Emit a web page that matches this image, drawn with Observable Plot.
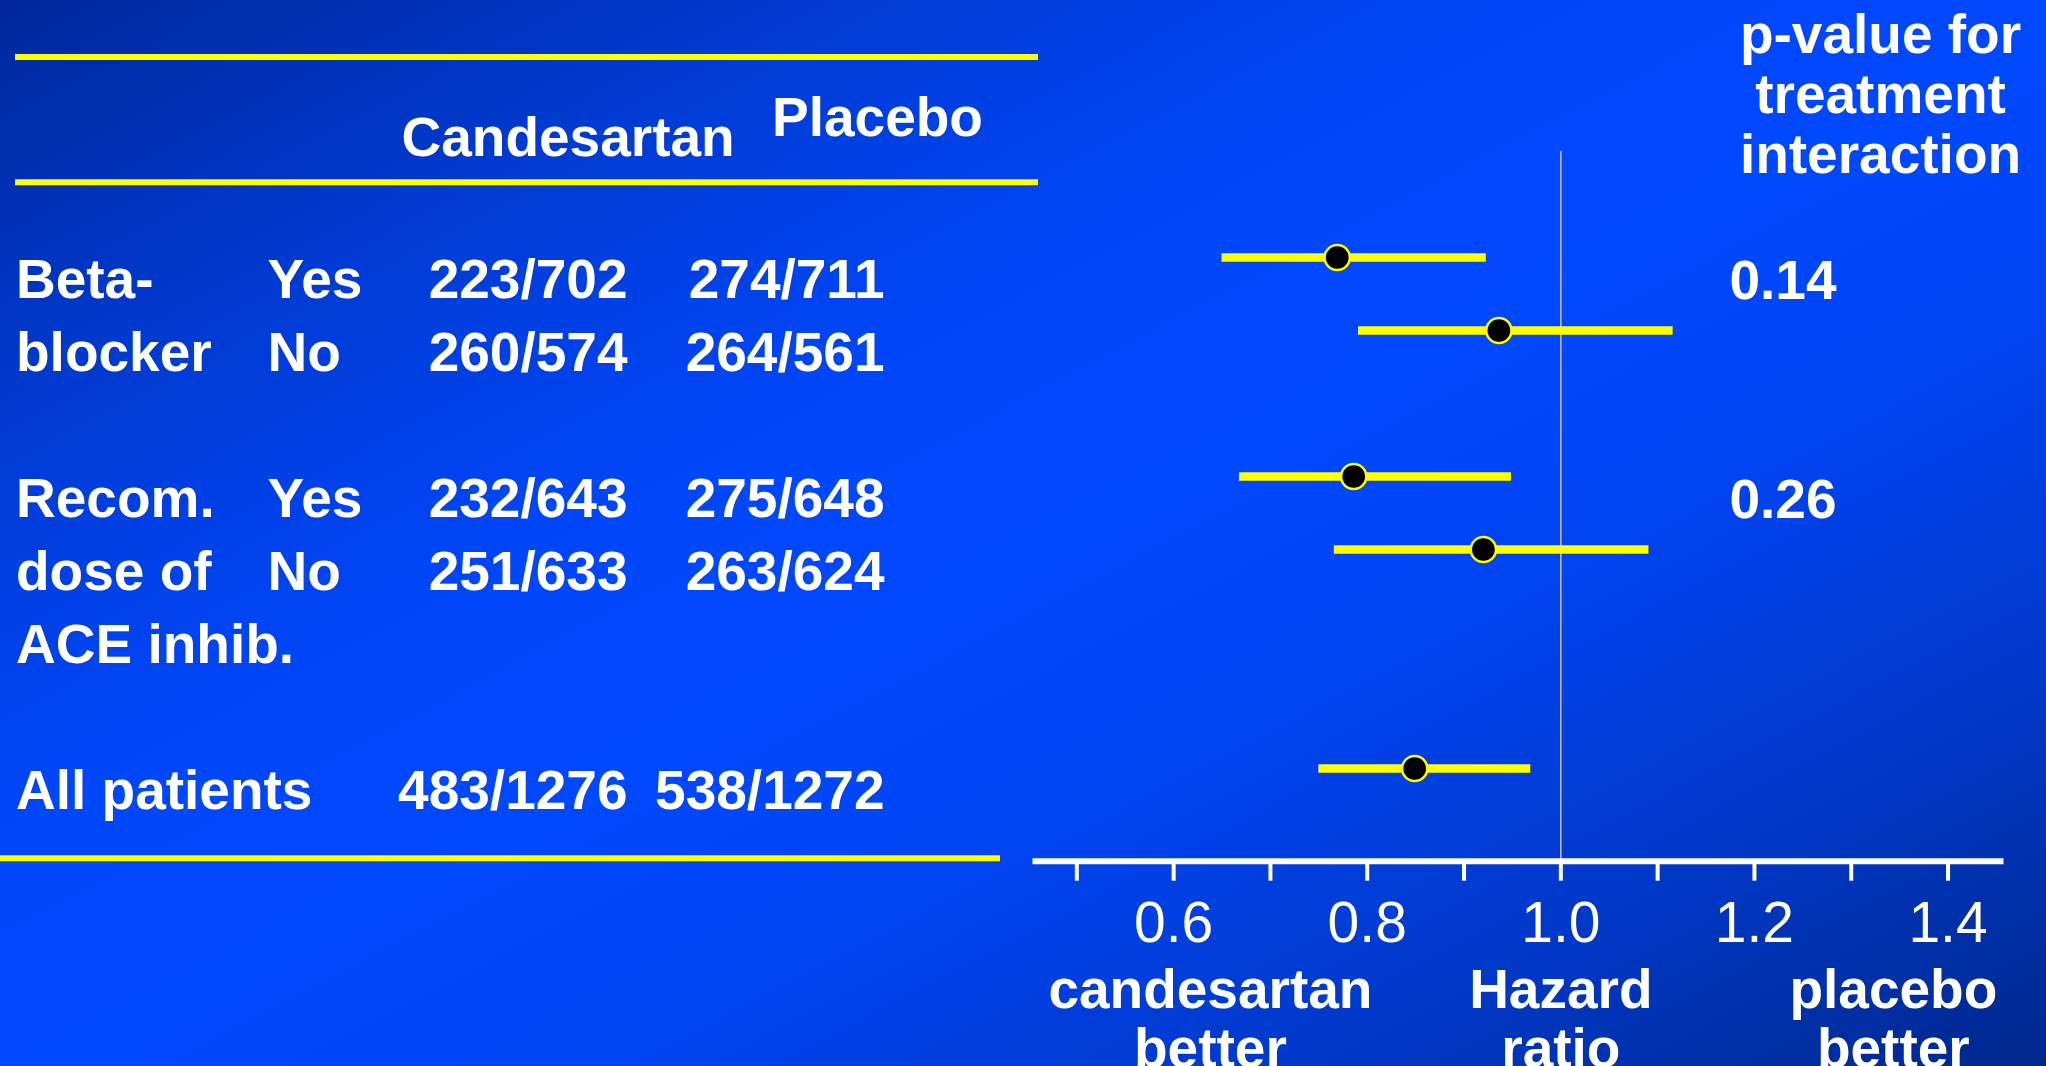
<!DOCTYPE html>
<html>
<head>
<meta charset="utf-8">
<script src="https://cdn.jsdelivr.net/npm/d3@7"></script>
<script src="https://cdn.jsdelivr.net/npm/@observablehq/plot@0.6"></script>
<style>
  html, body { margin: 0; padding: 0; }
  body { width: 2046px; height: 1066px; overflow: hidden; }
  #chart {
    width: 2046px; height: 1066px; position: relative;
    background: linear-gradient(to bottom right, #00289c 0%, #003cd6 22%, #0047fc 40%, #0048ff 52%, #0044f2 64%, #0038c8 82%, #00288c 100%);
    font-family: "Liberation Sans", Arial, sans-serif;
    color: white;
  }
</style>
</head>
<body>
<div id="chart"></div>
<script>
// ---- data ----
const rowKeys = ["bb-yes", "bb-no", "gap-1", "dose-yes", "dose-no", "dose-ace", "gap-2", "all"];
const groupLabels = ["Beta-", "blocker", "", "Recom.", "dose of", "ACE inhib.", "", "All patients"];
const subgroupLabels = ["Yes", "No", "", "Yes", "No", "", "", ""];
const candesartanEvents = ["223/702", "260/574", "", "232/643", "251/633", "", "", "483/1276"];
const placeboEvents = ["274/711", "264/561", "", "275/648", "263/624", "", "", "538/1272"];
const hazardRatio = [0.769, 0.936, null, 0.786, 0.920, null, null, 0.849];
const ciLow = [0.650, 0.791, null, 0.668, 0.766, null, null, 0.750];
const ciHigh = [0.923, 1.116, null, 0.949, 1.091, null, null, 0.969];
const pInteraction = ["0.14", "", "", "0.26", "", "", "", ""];

const tickValues = [0.5, 0.6, 0.7, 0.8, 0.9, 1.0, 1.1, 1.2, 1.3, 1.4];
const tickLabels = ["", "0.6", "", "0.8", "", "1.0", "", "1.2", "", "1.4"];

const columnHeaders = ["Candesartan", "Placebo"];
const pHeader = "p-value for\ntreatment\ninteraction";
const axisNotes = ["candesartan\nbetter", "Hazard\nratio", "placebo\nbetter"];
const axisNoteHR = [0.638, 1.0, 1.3435];

// ---- build table ----
const rows = rowKeys.map((key, i) => ({
  key,
  group: groupLabels[i],
  sub: subgroupLabels[i],
  cand: candesartanEvents[i],
  plac: placeboEvents[i],
  hr: hazardRatio[i],
  lo: ciLow[i],
  hi: ciHigh[i],
  p: pInteraction[i]
}));
const forestRows = rows.filter(d => d.hr != null);
const notes = axisNotes.map((t, i) => ({text: t, x: axisNoteHR[i]}));

// ---- layout (pixels) ----
const W = 2046, H = 1066;
const ML = 1035, MR = 46, MT = 151, MB = H - 860.7;
const FS = 55;
const yellow = "#ffff00";

// decorative yellow table rules, drawn as a function mark
function tableRules(index, scales, values, dims) {
  const g = d3.create("svg:g");
  const lines = [
    {x1: 15, x2: 1038, y: 57},
    {x1: 15, x2: 1038, y: 182.3},
    {x1: 0, x2: 1000, y: 858.3}
  ];
  for (const l of lines) {
    g.append("line").attr("x1", l.x1).attr("x2", l.x2).attr("y1", l.y).attr("y2", l.y)
      .attr("stroke", yellow).attr("stroke-width", 6);
  }
  return g.node();
}

const textBase = {fill: "white", fontSize: FS, fontWeight: "bold", lineAnchor: "middle"};

const plot = Plot.plot({
  width: W,
  height: H,
  marginLeft: ML,
  marginRight: MR,
  marginTop: MT,
  marginBottom: MB,
  style: {background: "transparent", color: "white", fontFamily: "'Liberation Sans', Arial, sans-serif", overflow: "visible"},
  x: {type: "linear", domain: [0.4573, 1.4542], label: null},
  y: {type: "point", domain: rowKeys, range: [278.2, 789.3], padding: 0, axis: null},
  marks: [
    tableRules,
    // reference line at HR = 1
    Plot.ruleX([1], {stroke: "#c8c0b0", strokeWidth: 1.5}),
    // axis line
    Plot.frame({anchor: "bottom", stroke: "white", strokeWidth: 6}),
    Plot.axisX({
      ticks: tickValues,
      tickFormat: (d) => tickLabels[tickValues.indexOf(d)],
      tickSize: 20,
      tickPadding: 20,
      strokeWidth: 4,
      stroke: "white",
      fill: "white",
      fontSize: 57,
      label: null,
      anchor: "bottom"
    }),
    // CI lines and points
    Plot.ruleY(forestRows, {y: "key", x1: "lo", x2: "hi", stroke: yellow, strokeWidth: 8.3, dy: -21}),
    Plot.dot(forestRows, {y: "key", x: "hr", r: 12.6, fill: "black", stroke: yellow, strokeWidth: 2.5, dy: -21}),
    // table text
    Plot.text(rows.filter(d => d.group), {...textBase, y: "key", text: "group", frameAnchor: "left", textAnchor: "start", dx: 15.5 - ML, dy: 1.5}),
    Plot.text(rows.filter(d => d.sub), {...textBase, y: "key", text: "sub", frameAnchor: "left", textAnchor: "start", dx: 267 - ML, dy: 1.5}),
    Plot.text(rows.filter(d => d.cand), {...textBase, y: "key", text: "cand", frameAnchor: "left", textAnchor: "end", dx: 627 - ML, dy: 1.5}),
    Plot.text(rows.filter(d => d.plac), {...textBase, y: "key", text: "plac", frameAnchor: "left", textAnchor: "end", dx: 884 - ML, dy: 1.5}),
    Plot.text(rows.filter(d => d.p), {...textBase, y: "key", text: "p", frameAnchor: "left", textAnchor: "start", dx: 1729 - ML, dy: 3}),
    // headers
    Plot.text([columnHeaders[0]], {...textBase, text: d => d, frameAnchor: "top-left", textAnchor: "middle", dx: 567.6 - ML, dy: 137.5 - MT}),
    Plot.text([columnHeaders[1]], {...textBase, text: d => d, frameAnchor: "top-left", textAnchor: "middle", dx: 877 - ML, dy: 118.3 - MT}),
    Plot.text([pHeader], {...textBase, text: d => d, frameAnchor: "top-left", textAnchor: "middle", dx: 1880 - ML, dy: 93 - MT, lineHeight: 60 / FS}),
    // axis notes
    Plot.text(notes, {...textBase, x: "x", text: "text", frameAnchor: "bottom", textAnchor: "middle", lineAnchor: "top", dy: 104.5, lineHeight: 59 / FS})
  ]
});

document.getElementById("chart").appendChild(plot);
</script>
</body>
</html>
